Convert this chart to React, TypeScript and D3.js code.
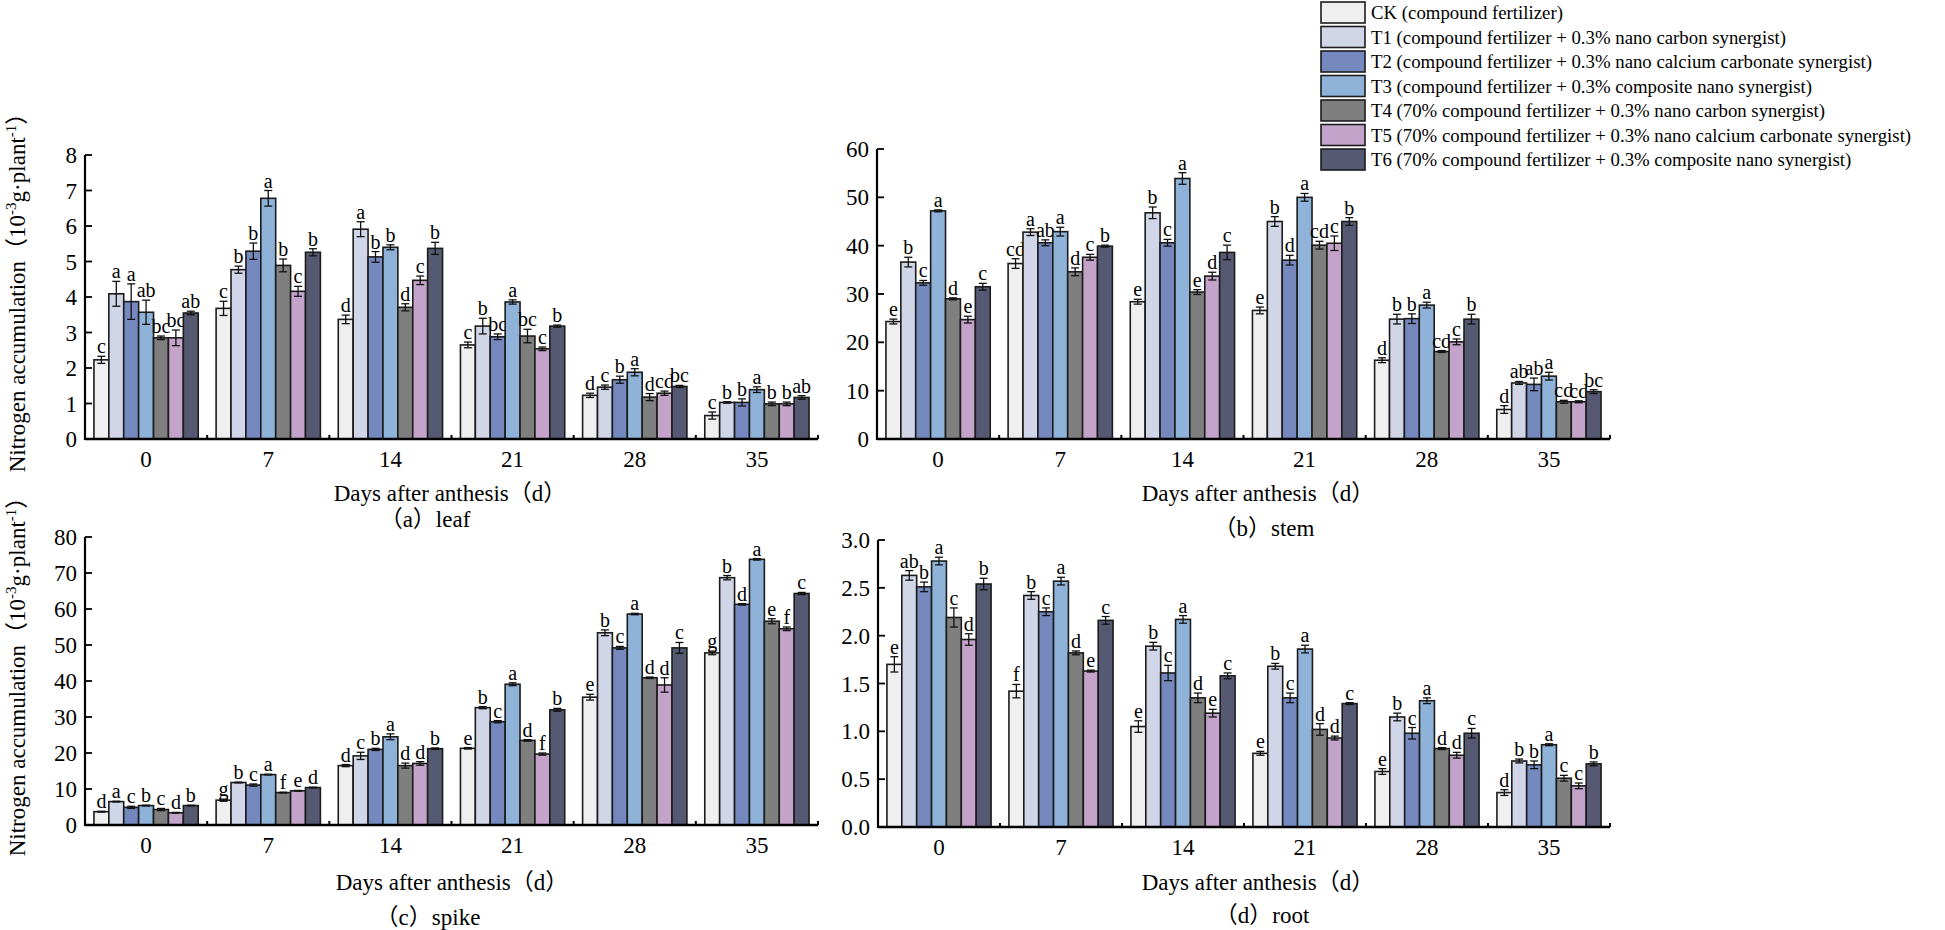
import React from 'react';
import * as d3 from 'd3';

const days = ['0', '7', '14', '21', '28', '35'];
const treatments = ['CK', 'T1', 'T2', 'T3', 'T4', 'T5', 'T6'];
const legendLabels = [
  'CK (compound fertilizer)',
  'T1 (compound fertilizer + 0.3% nano carbon synergist)',
  'T2 (compound fertilizer + 0.3% nano calcium carbonate synergist)',
  'T3 (compound fertilizer + 0.3% composite nano synergist)',
  'T4 (70% compound fertilizer + 0.3% nano carbon synergist)',
  'T5 (70% compound fertilizer + 0.3% nano calcium carbonate synergist)',
  'T6 (70% compound fertilizer + 0.3% composite nano synergist)',
];
const colors = ['#efefef', '#d0d6e8', '#7589bf', '#8fb2d9', '#7f7f7f', '#c3a3c9', '#555a72'];

// rows = days, columns = treatments
const leafMean = [
  [2.23, 4.09, 3.87, 3.57, 2.85, 2.85, 3.55],
  [3.68, 4.77, 5.29, 6.78, 4.89, 4.16, 5.26],
  [3.37, 5.91, 5.13, 5.4, 3.71, 4.47, 5.37],
  [2.65, 3.18, 2.88, 3.86, 2.9, 2.54, 3.18],
  [1.23, 1.46, 1.67, 1.88, 1.18, 1.29, 1.48],
  [0.66, 1.03, 1.03, 1.39, 0.99, 0.99, 1.17],
];
const leafErr = [
  [0.1, 0.35, 0.5, 0.34, 0.05, 0.22, 0.05],
  [0.2, 0.1, 0.23, 0.22, 0.18, 0.14, 0.1],
  [0.12, 0.21, 0.15, 0.07, 0.1, 0.12, 0.17],
  [0.08, 0.22, 0.08, 0.06, 0.19, 0.05, 0.03],
  [0.06, 0.06, 0.1, 0.1, 0.1, 0.06, 0.03],
  [0.1, 0.02, 0.1, 0.08, 0.05, 0.05, 0.05],
];
const leafSig = [
  ['c', 'a', 'a', 'ab', 'bc', 'bc', 'ab'],
  ['c', 'b', 'b', 'a', 'b', 'c', 'b'],
  ['d', 'a', 'b', 'b', 'd', 'c', 'b'],
  ['c', 'b', 'bc', 'a', 'bc', 'c', 'b'],
  ['d', 'c', 'b', 'a', 'd', 'cd', 'bc'],
  ['c', 'b', 'b', 'a', 'b', 'b', 'ab'],
];

const stemMean = [
  [24.3, 36.6, 32.3, 47.2, 29.0, 24.7, 31.5],
  [36.3, 42.8, 40.6, 42.9, 34.6, 37.6, 39.9],
  [28.4, 46.8, 40.6, 53.9, 30.4, 33.7, 38.6],
  [26.6, 45.0, 37.0, 50.0, 40.1, 40.5, 45.0],
  [16.3, 24.8, 24.9, 27.7, 18.1, 20.1, 24.8],
  [6.1, 11.6, 11.3, 13.0, 7.7, 7.7, 9.8],
];
const stemErr = [
  [0.5, 1.0, 0.5, 0.2, 0.2, 0.7, 0.7],
  [1.0, 0.7, 0.6, 0.9, 0.8, 0.6, 0.2],
  [0.5, 1.2, 0.7, 1.2, 0.5, 0.8, 1.5],
  [0.7, 1.0, 1.0, 0.8, 0.8, 1.5, 0.8],
  [0.5, 1.0, 1.0, 0.6, 0.2, 0.6, 1.0],
  [0.8, 0.3, 1.3, 0.8, 0.3, 0.2, 0.4],
];
const stemSig = [
  ['e', 'b', 'c', 'a', 'd', 'e', 'c'],
  ['cd', 'a', 'ab', 'a', 'd', 'c', 'b'],
  ['e', 'b', 'c', 'a', 'e', 'd', 'c'],
  ['e', 'b', 'd', 'a', 'cd', 'c', 'b'],
  ['d', 'b', 'b', 'a', 'cd', 'c', 'b'],
  ['d', 'ab', 'ab', 'a', 'cd', 'cd', 'bc'],
];

const spikeMean = [
  [3.7, 6.5, 4.9, 5.4, 4.3, 3.4, 5.4],
  [6.9, 11.8, 11.1, 14.0, 9.0, 9.5, 10.4],
  [16.5, 19.2, 21.0, 24.5, 16.5, 17.1, 21.2],
  [21.3, 32.6, 28.7, 39.1, 23.5, 19.7, 32.0],
  [35.5, 53.4, 49.2, 58.6, 40.9, 38.9, 49.2],
  [47.8, 68.7, 61.3, 73.8, 56.6, 54.5, 64.3],
];
const spikeErr = [
  [0.1, 0.1, 0.3, 0.1, 0.3, 0.1, 0.1],
  [0.3, 0.1, 0.3, 0.1, 0.1, 0.1, 0.1],
  [0.3, 1.0, 0.3, 0.8, 0.7, 0.5, 0.2],
  [0.2, 0.3, 0.3, 0.4, 0.2, 0.3, 0.4],
  [0.8, 0.8, 0.4, 0.2, 0.2, 2.0, 1.5],
  [0.5, 0.6, 0.2, 0.2, 0.7, 0.5, 0.3],
];
const spikeSig = [
  ['d', 'a', 'c', 'b', 'c', 'd', 'b'],
  ['g', 'b', 'c', 'a', 'f', 'e', 'd'],
  ['d', 'c', 'b', 'a', 'd', 'd', 'b'],
  ['e', 'b', 'c', 'a', 'd', 'f', 'b'],
  ['e', 'b', 'c', 'a', 'd', 'd', 'c'],
  ['g', 'b', 'd', 'a', 'e', 'f', 'c'],
];

const rootMean = [
  [1.7, 2.63, 2.51, 2.78, 2.19, 1.96, 2.54],
  [1.42, 2.42, 2.25, 2.57, 1.82, 1.63, 2.16],
  [1.05, 1.89, 1.61, 2.17, 1.35, 1.19, 1.58],
  [0.77, 1.68, 1.35, 1.86, 1.02, 0.93, 1.29],
  [0.58, 1.15, 0.98, 1.32, 0.82, 0.75, 0.98],
  [0.36, 0.69, 0.65, 0.86, 0.51, 0.43, 0.66],
];
const rootErr = [
  [0.08, 0.05, 0.05, 0.04, 0.1, 0.06, 0.06],
  [0.07, 0.04, 0.04, 0.04, 0.02, 0.01, 0.04],
  [0.06, 0.04, 0.08, 0.04, 0.05, 0.04, 0.03],
  [0.02, 0.03, 0.05, 0.04, 0.06, 0.02, 0.01],
  [0.03, 0.04, 0.06, 0.03, 0.01, 0.03, 0.05],
  [0.03, 0.02, 0.04, 0.01, 0.03, 0.03, 0.02],
];
const rootSig = [
  ['e', 'ab', 'b', 'a', 'c', 'd', 'b'],
  ['f', 'b', 'c', 'a', 'd', 'e', 'c'],
  ['e', 'b', 'c', 'a', 'd', 'e', 'c'],
  ['e', 'b', 'c', 'a', 'd', 'd', 'c'],
  ['e', 'b', 'c', 'a', 'd', 'd', 'c'],
  ['d', 'b', 'b', 'a', 'c', 'c', 'b'],
];

const FONT = '"Liberation Serif", "Times New Roman", "Noto Sans CJK SC", serif';
const xTitle = 'Days after anthesis（d）';

type PanelProps = {
  mean: number[][];
  err: number[][];
  sig: string[][];
  x0: number;
  x1: number;
  yTop: number;
  yBase: number;
  yMax: number;
  yStep: number;
  fmt: string;
  caption: string;
  capX: number;
  capY: number;
  titleX: number;
  titleY: number;
  yTitle?: boolean;
};

const Panel = (p: PanelProps) => {
  const x = d3.scaleBand().domain(days).range([p.x0, p.x1]);
  const inner = d3.scaleBand().domain(treatments).range([0, x.bandwidth()]).paddingOuter(0.6);
  const y = d3.scaleLinear().domain([0, p.yMax]).range([p.yBase, p.yTop]);
  const ticks = d3.range(0, p.yMax + p.yStep / 2, p.yStep);
  const fmt = d3.format(p.fmt);
  const bounds = days.map((d) => (x(d) as number) + x.bandwidth());
  const midY = (p.yTop + p.yBase) / 2;

  return (
    <g>
      {days.map((d, di) => (
        <g key={d}>
          {treatments.map((t, ti) => {
            const v = p.mean[di][ti];
            const e = p.err[di][ti];
            const bx = (x(d) as number) + (inner(t) as number);
            const bw = inner.bandwidth();
            const cx = bx + bw / 2;
            return (
              <g key={t}>
                <rect x={bx} y={y(v)} width={bw} height={p.yBase - y(v)} fill={colors[ti]} stroke="#1c1c1c" strokeWidth={1.6} />
                <line x1={cx} x2={cx} y1={y(v + e)} y2={y(v - e)} stroke="#111" strokeWidth={1.3} />
                <line x1={cx - 4} x2={cx + 4} y1={y(v + e)} y2={y(v + e)} stroke="#111" strokeWidth={1.3} />
                <line x1={cx - 4} x2={cx + 4} y1={y(v - e)} y2={y(v - e)} stroke="#111" strokeWidth={1.3} />
                <text x={cx} y={y(v + e) - 3} textAnchor="middle" fontSize={20} fontFamily={FONT} fill="#000">
                  {p.sig[di][ti]}
                </text>
              </g>
            );
          })}
          <text x={(x(d) as number) + x.bandwidth() / 2} y={p.yBase + 28} textAnchor="middle" fontSize={23} fontFamily={FONT}>
            {d}
          </text>
        </g>
      ))}
      {/* axes */}
      <line x1={p.x0} x2={p.x1} y1={p.yBase} y2={p.yBase} stroke="#000" strokeWidth={2.5} />
      {bounds.map((b, i) => (
        <line key={i} x1={b} x2={b} y1={p.yBase} y2={p.yBase - 4} stroke="#000" strokeWidth={2} />
      ))}
      <line x1={p.x0} x2={p.x0} y1={p.yTop} y2={p.yBase + 1} stroke="#000" strokeWidth={2.2} />
      {ticks.map((t) => (
        <g key={t}>
          <line x1={p.x0} x2={p.x0 + 7} y1={y(t)} y2={y(t)} stroke="#000" strokeWidth={1.8} />
          <text x={p.x0 - 8} y={y(t) + 8} textAnchor="end" fontSize={23} fontFamily={FONT}>
            {fmt(t)}
          </text>
        </g>
      ))}
      <text x={p.titleX} y={p.titleY} textAnchor="middle" fontSize={23} fontFamily={FONT}>
        {xTitle}
      </text>
      <text x={p.capX} y={p.capY} textAnchor="middle" fontSize={23} fontFamily={FONT}>
        {p.caption}
      </text>
      {p.yTitle && (
        <text
          transform={`translate(25,${midY - 10}) rotate(-90)`}
          textAnchor="middle"
          fontSize={23}
          fontFamily={FONT}
        >
          Nitrogen accumulation（10<tspan dy={-9} fontSize={15}>-3</tspan>
          <tspan dy={9}>g·plant</tspan>
          <tspan dy={-9} fontSize={15}>-1</tspan>
          <tspan dy={9}>）</tspan>
        </text>
      )}
    </g>
  );
};

const Legend = () => (
  <g>
    {legendLabels.map((l, i) => (
      <g key={l} transform={`translate(1321,${2 + i * 24.5})`}>
        <rect x={0} y={0} width={44} height={21} fill={colors[i]} stroke="#1c1c1c" strokeWidth={1.6} />
        <text x={50} y={17} fontSize={18.8} fontFamily={FONT}>
          {l}
        </text>
      </g>
    ))}
  </g>
);

export default function App() {
  return (
    <svg width={1945} height={930} style={{ position: 'absolute', left: 0, top: 0, background: '#fff' }}>
      <Legend />
      <Panel mean={leafMean} err={leafErr} sig={leafSig} x0={85} x1={818} yTop={155} yBase={439} yMax={8} yStep={1} fmt="d"
        caption="（a）leaf" capX={425} capY={527} titleX={450} titleY={501} yTitle />
      <Panel mean={stemMean} err={stemErr} sig={stemSig} x0={877} x1={1610} yTop={149} yBase={439} yMax={60} yStep={10} fmt="d"
        caption="（b）stem" capX={1264} capY={536} titleX={1258} titleY={501} />
      <Panel mean={spikeMean} err={spikeErr} sig={spikeSig} x0={85} x1={818} yTop={537} yBase={825} yMax={80} yStep={10} fmt="d"
        caption="（c）spike" capX={428} capY={925} titleX={452} titleY={890} yTitle />
      <Panel mean={rootMean} err={rootErr} sig={rootSig} x0={878} x1={1610} yTop={540} yBase={827} yMax={3} yStep={0.5} fmt=".1f"
        caption="（d）root" capX={1262} capY={923} titleX={1258} titleY={890} />
    </svg>
  );
}
